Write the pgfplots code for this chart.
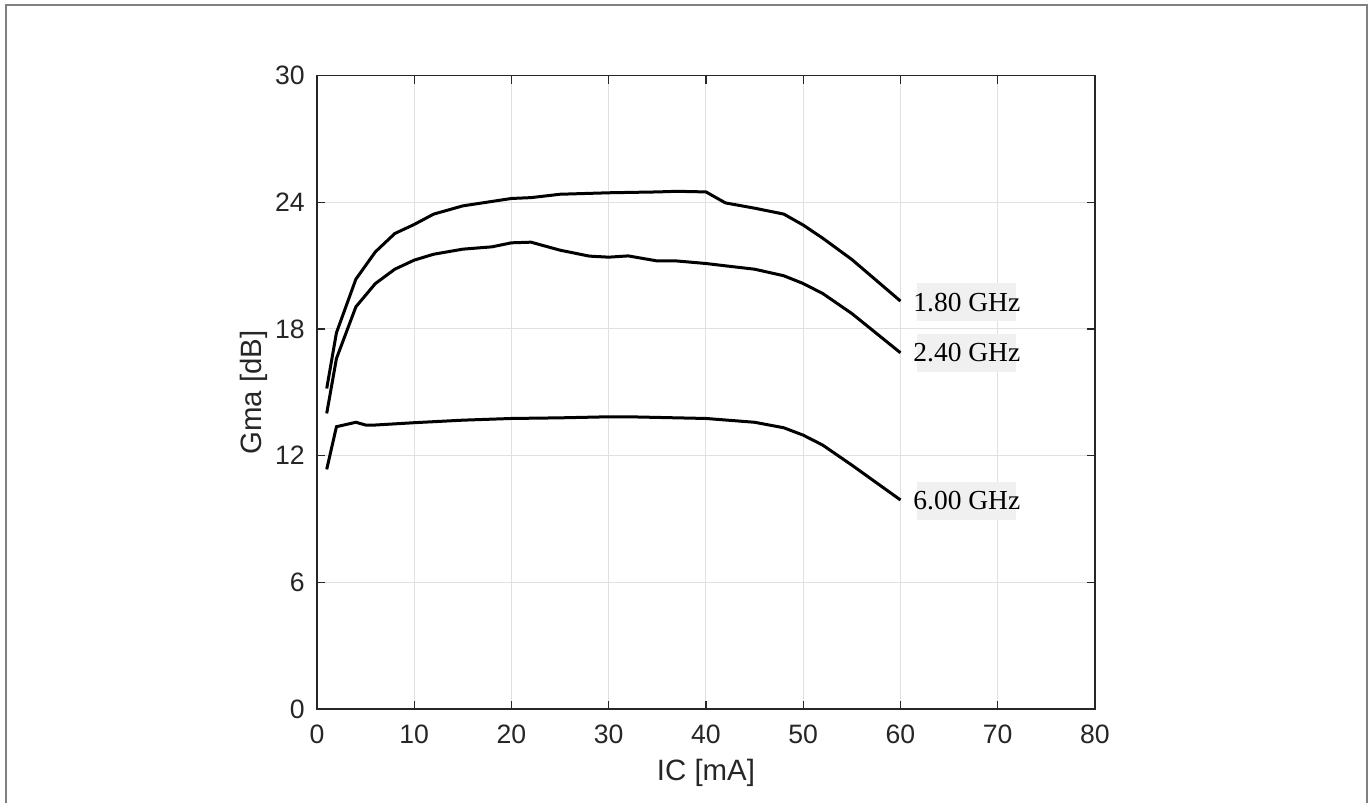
\documentclass[border=0pt]{standalone}
\usepackage{pgfplots}
\pgfplotsset{compat=1.18}
\usepackage{fontspec}
\setmainfont{Liberation Sans}
\newfontfamily\seriffont{Liberation Serif}
\definecolor{axcol}{gray}{0.15}
\definecolor{gridcol}{gray}{0.88}
\definecolor{framecol}{gray}{0.5}
\definecolor{boxcol}{gray}{0.94}
\begin{document}
\begin{tikzpicture}
\useasboundingbox (-158.5pt,-47pt) rectangle (527pt,354.5pt);
\draw[framecol, line width=1pt] (-155.5pt,-48pt) -- (-155.5pt,352pt) -- (525pt,352pt) -- (525pt,-48pt);
\begin{axis}[
  at={(0,0)}, anchor=south west,
  scale only axis,
  width=389pt, height=316.7pt,
  xmin=0, xmax=80, ymin=0, ymax=30,
  xtick={0,10,...,80}, ytick={0,6,...,30},
  grid=major,
  major grid style={gridcol, line width=0.5pt},
  axis line style={axcol, line width=0.6pt},
  tick style={axcol, line width=0.6pt},
  tick align=inside,
  major tick length=4pt,
  tick pos=both,
  /pgf/number format/assume math mode=true,
  ticklabel style={font=\fontsize{13.3}{16}\selectfont, text=axcol},
  yticklabel style={xshift=-2.6pt},
  xticklabel style={yshift=-4.4pt},
  label style={font=\fontsize{14.7}{17}\selectfont, text=axcol},
  xlabel={IC [mA]},
  ylabel={Gma [dB]},
  xlabel style={at={(axis description cs:0.5,-0.101)}, anchor=center},
  ylabel style={at={(axis description cs:-0.081,0.5)}, anchor=center},
  clip=false,
]
\addplot[black, line width=1.5pt] coordinates {
(1,15.18) (2,17.82) (4,20.36) (6,21.65) (8,22.52) (10,22.95) (12,23.44) (15,23.83)
(20,24.18) (22,24.22) (25,24.38) (30,24.45) (35,24.49) (37,24.52) (40,24.49)
(42,23.97) (45,23.72) (48,23.44) (50,22.92) (52,22.3) (55,21.29) (60,19.32)};
\addplot[black, line width=1.5pt] coordinates {
(1,14.0) (2,16.6) (4,19.05) (6,20.15) (8,20.83) (10,21.26) (12,21.54) (15,21.78)
(18,21.89) (20,22.08) (22,22.11) (25,21.73) (28,21.45) (30,21.40) (32,21.46)
(35,21.22) (37,21.22) (40,21.10) (42,20.99) (45,20.83) (48,20.52) (50,20.15)
(52,19.68) (55,18.73) (60,16.87)};
\addplot[black, line width=1.5pt] coordinates {
(1,11.35) (2,13.37) (4,13.58) (5,13.45) (6,13.45) (10,13.56) (15,13.68) (20,13.76)
(25,13.79) (30,13.84) (32,13.84) (37,13.79) (40,13.76) (45,13.58) (48,13.32)
(50,12.97) (52,12.5) (55,11.55) (60,9.9)};
\tikzset{glabel/.style={fill=boxcol, anchor=west, inner xsep=-2pt, inner ysep=0pt, minimum height=19pt, font=\seriffont\fontsize{13.75}{16}\selectfont}}
\node[glabel] at (axis cs:61.7,19.27) {1.80 GHz};
\node[glabel] at (axis cs:61.7,16.86) {2.40 GHz};
\node[glabel] at (axis cs:61.7,9.85) {6.00 GHz};
\end{axis}
\end{tikzpicture}
\end{document}
